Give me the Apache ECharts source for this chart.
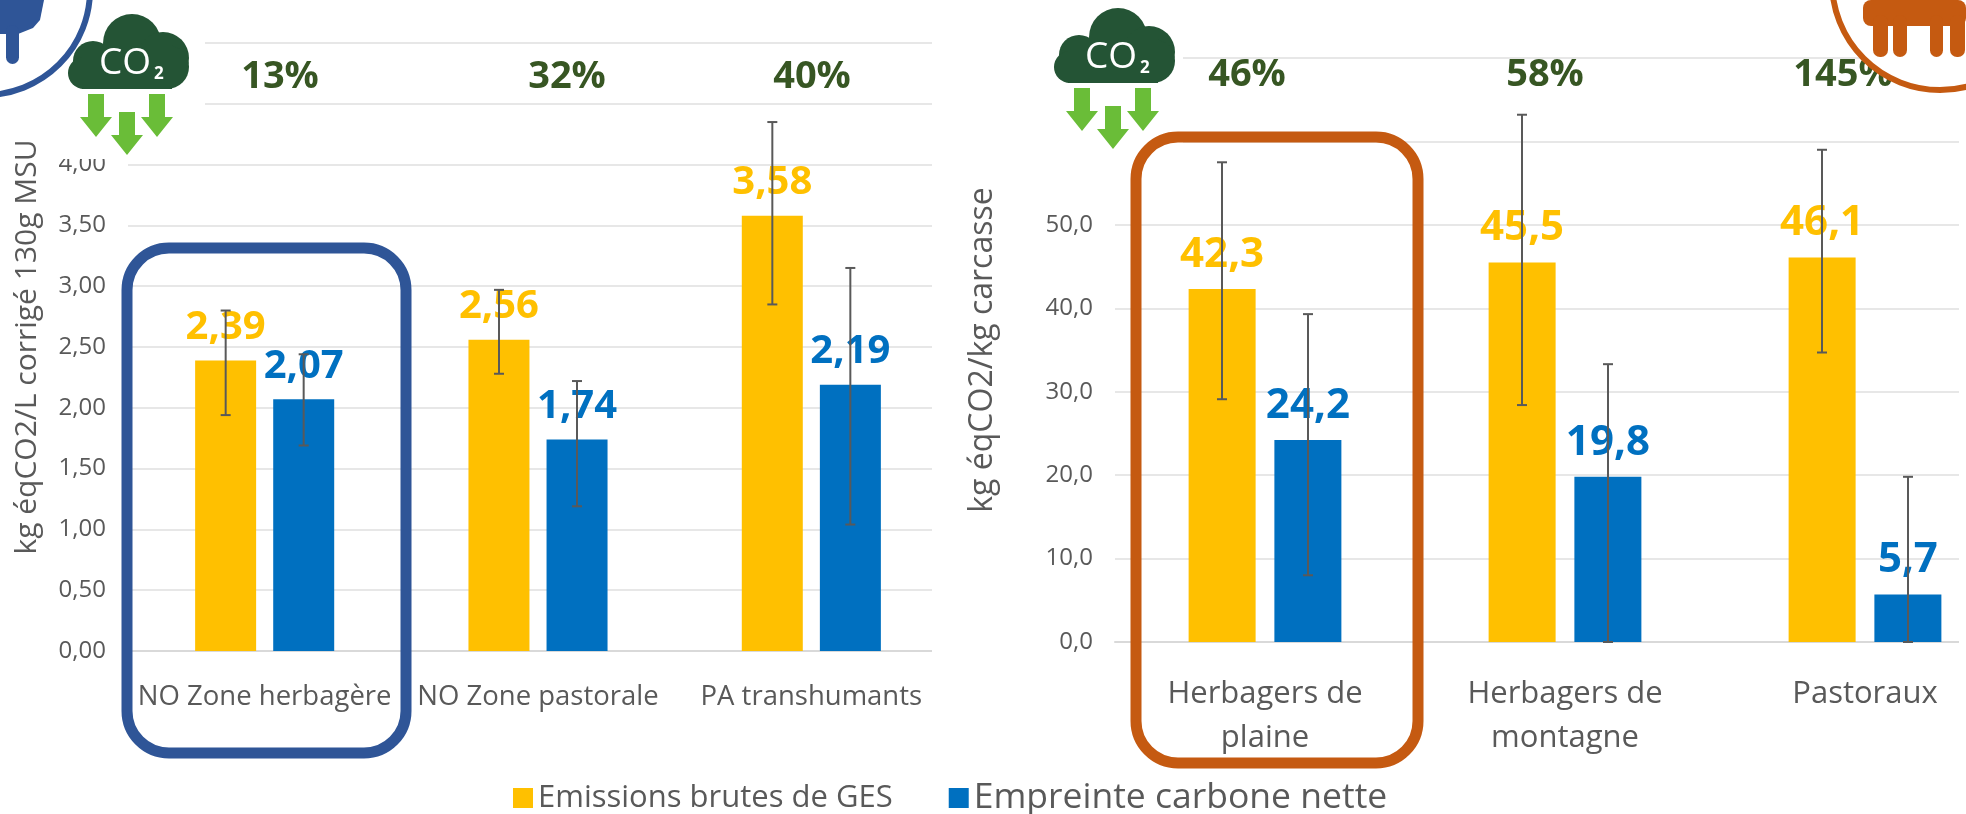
<!DOCTYPE html>
<html>
<head>
<meta charset="utf-8">
<style>
  html, body { margin: 0; background: #fff; }
  #chart { width: 1966px; height: 814px; }
</style>
<script src="https://cdn.jsdelivr.net/npm/echarts@6/dist/echarts.min.js"></script>
</head>
<body>
<div id="chart"></div>
<script>
// left chart: milk, per litre
const milkCategories = ['NO Zone herbagère', 'NO Zone pastorale', 'PA transhumants'];
const milkGross = [2.39, 2.56, 3.58];
const milkNet = [2.07, 1.74, 2.19];
const milkGrossErr = [[1.94, 2.80], [2.28, 2.97], [2.85, 4.35]];
const milkNetErr = [[1.69, 2.44], [1.19, 2.22], [1.04, 3.15]];
const milkStorage = ['13%', '32%', '40%'];

// right chart: meat, per kg carcass
const meatCategories = ['Herbagers de\nplaine', 'Herbagers de\nmontagne', 'Pastoraux'];
const meatGross = [42.3, 45.5, 46.1];
const meatNet = [24.2, 19.8, 5.7];
const meatGrossErr = [[29.1, 57.5], [28.4, 63.2], [34.7, 59.0]];
const meatNetErr = [[8.0, 39.3], [0, 33.3], [0, 19.8]];
const meatStorage = ['46%', '58%', '145%'];

const GROSS = 'Emissions brutes de GES';
const NET = 'Empreinte carbone nette';
const FONT = '"Open Sans", sans-serif';
const GREY = '#595959';
const YELLOW = '#FFC000';
const BLUE = '#0070C0';
const DARK_GREEN = '#375623';

const chart = echarts.init(document.getElementById('chart'));

function comma(v, digits) {
    return v.toFixed(digits).replace('.', ',');
}

function barSeries(name, data, color, grid, width, digits, size) {
    return {
        name: name,
        type: 'bar',
        xAxisIndex: grid,
        yAxisIndex: grid,
        data: data,
        barWidth: width,
        barGap: '28%',
        z: 2,
        itemStyle: { color: color },
        label: {
            show: true,
            position: 'top',
            distance: 13,
            color: color,
            fontFamily: FONT,
            fontWeight: 'bold',
            fontSize: size,
            formatter: (p) => comma(p.value, digits)
        }
    };
}

// whiskers sit over the bars, offset is half of bar + gap
function errorSeries(data, grid, offset) {
    return {
        type: 'custom',
        xAxisIndex: grid,
        yAxisIndex: grid,
        z: 3,
        silent: true,
        data: data.map((d, i) => [i, d[0], d[1]]),
        renderItem: (params, api) => {
            const low = api.coord([api.value(0), api.value(1)]);
            const high = api.coord([api.value(0), api.value(2)]);
            const x = low[0] + offset;
            const style = { stroke: GREY, lineWidth: 2, fill: null };
            const seg = (x1, y1, x2, y2) => ({
                type: 'line', shape: { x1, y1, x2, y2 }, style
            });
            return {
                type: 'group',
                children: [
                    seg(x, low[1], x, high[1]),
                    seg(x - 5, low[1], x + 5, low[1]),
                    seg(x - 5, high[1], x + 5, high[1])
                ]
            };
        }
    };
}

function cloud(x, y) {
    const green = { fill: '#245435' };
    const arrow = (dx, top) => ({
        type: 'polygon',
        shape: { points: [
            [x + dx - 8, y + top], [x + dx + 8, y + top], [x + dx + 8, y + top + 23],
            [x + dx + 16, y + top + 23], [x + dx, y + top + 43], [x + dx - 16, y + top + 23],
            [x + dx - 8, y + top + 23]
        ] },
        style: { fill: '#6ABD38' }
    });
    const lobe = (cx, cy, r) => ({ type: 'circle', shape: { cx: x + cx, cy: y + cy, r: r }, style: green });
    return [
        lobe(65, 29, 29), lobe(96, 44, 26), lobe(100, 53, 22),
        lobe(26, 47, 20), lobe(17, 59, 16),
        { type: 'rect', shape: { x: x + 15, y: y + 30, width: 90, height: 45 }, style: green },
        { type: 'text', style: { text: 'CO', x: x + 32, y: y + 49, verticalAlign: 'middle', fill: '#fff', fontSize: 37, fontFamily: FONT } },
        { type: 'text', style: { text: '2', x: x + 87, y: y + 60, verticalAlign: 'middle', fill: '#fff', fontSize: 17, fontWeight: 'bold', fontFamily: FONT } },
        arrow(29, 80), arrow(60, 98), arrow(90, 80)
    ];
}

function whiteRect(x, y, width, height) {
    return { type: 'rect', shape: { x, y, width, height }, style: { fill: '#fff' } };
}

function storageText(text, x, y) {
    return {
        type: 'text',
        style: {
            text: text, x: x, y: y, align: 'center', verticalAlign: 'middle',
            fill: DARK_GREEN, fontSize: 38, fontWeight: 'bold', fontFamily: FONT
        }
    };
}

function roundedBox(x, y, width, height, color) {
    return {
        type: 'rect',
        shape: { x, y, width, height, r: 42 },
        style: { fill: null, stroke: color, lineWidth: 11 }
    };
}

function rounded(x, y, width, height, color) {
    return { type: 'rect', shape: { x, y, width, height, r: 7 }, style: { fill: color } };
}

const cowBlue = '#2F5597';
const cowOrange = '#C55A11';

const graphics = [
    // hide the top of the axes behind the icons and trim the grid lines
    whiteRect(47, 0, 158, 159),
    whiteRect(932, 0, 30, 700),
    whiteRect(1000, 0, 183, 175),
    whiteRect(1959, 0, 7, 700),
    ...cloud(67, 14),
    ...cloud(1053, 8),
    storageText(milkStorage[0], 280, 77),
    storageText(milkStorage[1], 567, 77),
    storageText(milkStorage[2], 812, 77),
    storageText(meatStorage[0], 1247, 75),
    storageText(meatStorage[1], 1545, 75),
    storageText(meatStorage[2], 1843, 75),
    roundedBox(127, 248, 279, 505, cowBlue),
    roundedBox(1136, 137, 282, 626, cowOrange),
    // cow badges in the corners
    { type: 'circle', shape: { cx: -15, cy: -10, r: 105 }, style: { fill: '#fff', stroke: cowBlue, lineWidth: 6 } },
    { type: 'polygon', shape: { points: [[0, 0], [44, 0], [40, 20], [33, 28], [18, 34], [0, 34]] }, style: { fill: cowBlue } },
    rounded(6, 25, 13, 39, cowBlue),
    { type: 'circle', shape: { cx: 1940, cy: -18, r: 108 }, style: { fill: '#fff', stroke: cowOrange, lineWidth: 6 } },
    { type: 'rect', shape: { x: 1863, y: 0, width: 103, height: 26, r: 8 }, style: { fill: cowOrange } },
    rounded(1873, 15, 15, 42, cowOrange),
    rounded(1893, 15, 14, 42, cowOrange),
    rounded(1930, 15, 13, 42, cowOrange),
    rounded(1950, 15, 15, 42, cowOrange)
];
// later elements paint on top
graphics.forEach((g, i) => { g.z = 10 + i; });

function categoryAxis(data, grid, size, margin) {
    return {
        type: 'category',
        gridIndex: grid,
        data: data,
        axisTick: { show: false },
        axisLine: { lineStyle: { color: '#D9D9D9', width: 2 } },
        axisLabel: {
            color: GREY, fontFamily: FONT, fontSize: size, margin: margin,
            lineHeight: 44, interval: 0
        }
    };
}

function valueAxis(grid, max, interval, digits, name, nameGap, nameSize) {
    return {
        type: 'value',
        gridIndex: grid,
        min: 0,
        max: max,
        interval: interval,
        name: name,
        nameLocation: 'middle',
        nameGap: nameGap,
        nameTextStyle: { color: GREY, fontFamily: FONT, fontSize: nameSize },
        axisLine: { show: false },
        axisTick: { show: false },
        splitLine: { lineStyle: { color: '#E7E7E7', width: 2 } },
        axisLabel: {
            color: GREY, fontFamily: FONT, fontSize: 24, margin: 22,
            formatter: (v) => comma(v, digits)
        }
    };
}

chart.setOption({
    animation: false,
    backgroundColor: '#fff',
    grid: [
        { left: 128, top: 43, width: 820, height: 608, outerBoundsMode: 'none' },
        { left: 1115, top: 58, width: 900, height: 584, outerBoundsMode: 'none' }
    ],
    xAxis: [
        categoryAxis(milkCategories, 0, 27.5, 24),
        categoryAxis(meatCategories, 1, 31, 30)
    ],
    yAxis: [
        valueAxis(0, 5, 0.5, 2, 'kg éqCO2/L corrigé 130g MSU', 86, 30),
        valueAxis(1, 70, 10, 1, 'kg éqCO2/kg carcasse', 116, 32)
    ],
    legend: {
        data: [
            { name: GROSS, textStyle: { fontSize: 31 } },
            { name: NET, textStyle: { fontSize: 35.5 } }
        ],
        left: 508,
        top: 775,
        icon: 'rect',
        itemWidth: 20,
        itemHeight: 20,
        itemGap: 56,
        selectedMode: false,
        textStyle: { color: GREY, fontFamily: FONT, fontSize: 31 }
    },
    series: [
        barSeries(GROSS, milkGross, YELLOW, 0, 61, 2, 40),
        barSeries(NET, milkNet, BLUE, 0, 61, 2, 40),
        barSeries(GROSS, meatGross, YELLOW, 1, 67, 1, 42),
        barSeries(NET, meatNet, BLUE, 1, 67, 1, 42),
        errorSeries(milkGrossErr, 0, -39),
        errorSeries(milkNetErr, 0, 39),
        errorSeries(meatGrossErr, 1, -43),
        errorSeries(meatNetErr, 1, 43)
    ],
    graphic: { elements: graphics }
});

window.addEventListener('resize', () => chart.resize());
</script>
</body>
</html>
